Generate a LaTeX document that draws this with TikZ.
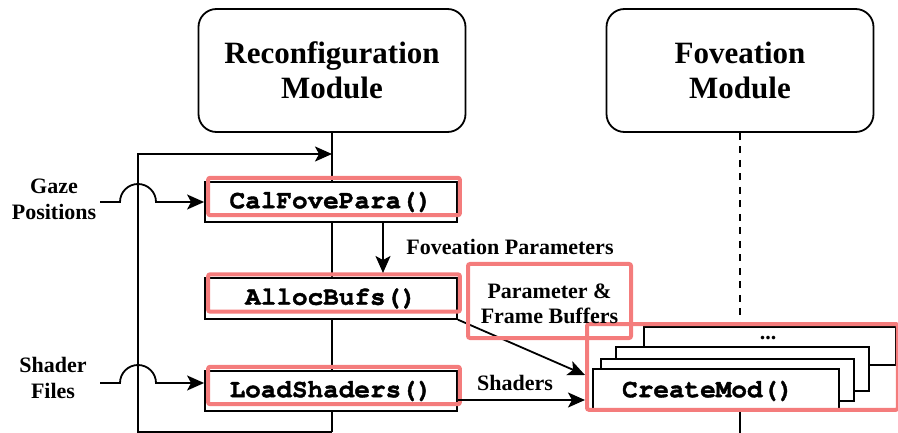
\documentclass[tikz,border=0pt]{standalone}
\usepackage{fontspec}
\setmainfont{Liberation Serif}
\newfontfamily\codefont[BoldFeatures={FakeBold=1.5}]{TeX Gyre Cursor}
\usetikzlibrary{arrows.meta}
\definecolor{hl}{RGB}{244,124,124}
\begin{document}
\begin{tikzpicture}[x=1pt,y=1pt,line width=1.8pt,
  modbox/.style={draw,rounded corners=18pt,minimum width=267pt,minimum height=123pt,align=center,inner sep=0pt,font=\fontsize{31}{35}\selectfont\bfseries},
  funbox/.style={draw,fill=white,minimum width=252pt,minimum height=40.5pt,inner sep=0pt,font=\fontsize{26}{30}\codefont\bfseries},
  hlbox/.style={draw=hl,line width=4pt,rounded corners=2pt},
  lbl/.style={font=\fontsize{22}{26}\selectfont\bfseries,align=center,inner sep=0pt},
  arr/.style={-{Stealth[length=17pt,width=15pt,inset=4pt]}},
  stackbox/.style={draw,fill=white,anchor=north west,inner sep=0pt}
]
\useasboundingbox (0,0) rectangle (898,-433);
% modules
\node[modbox] (recon) at (332,-70.5) {Reconfiguration\\Module};
\node[modbox] (fove) at (740,-70.5) {Foveation\\Module};
% reconfiguration lifeline and loop
\coordinate (rbot) at (332,-432);
\coordinate (lbl) at (138,-432);
\coordinate (ltl) at (138,-154);
\coordinate (ltr) at (332,-154);
\draw (recon.south) -- (rbot);
\draw[arr] (rbot) -- (lbl) -- (ltl) -- (ltr);
% function boxes
\node[funbox] (cal) at (331,-202) {CalFovePara()};
\node[funbox] (alloc) at (331,-298.5) {AllocBufs()};
\node[funbox] (load) at (331,-391) {LoadShaders()};
\foreach \n in {cal,alloc,load}
  \draw[hlbox] ([shift={(4,8)}]\n.south west) rectangle ([shift={(2,3)}]\n.north east);
% inputs
\node[lbl] (gaze) at (54,-199) {Gaze\\Positions};
\node[lbl] (shader) at (53,-378) {Shader\\Files};
\coordinate (g0) at (100,-202);
\coordinate (s0) at (100,-383);
\draw[arr] (g0) -- (120,-202) arc[start angle=180,end angle=0,radius=18] -- (cal.west |- g0);
\draw[arr] (s0) -- (120,-383) arc[start angle=180,end angle=0,radius=18] -- (load.west |- s0);
% cal -> alloc
\coordinate (xa) at (383,-273);
\draw[arr] (cal.south -| xa) -- (xa);
\node[lbl] (fp) at (510,-247) {Foveation Parameters};
% foveation lifeline
\coordinate (fbot) at (740,-433);
% stack
\node[stackbox,minimum width=252pt,minimum height=38pt] (m4) at (643,-326) {};
\draw[dash pattern=on 7pt off 6.5pt] (fove.south) -- (fove.south |- m4.north);
\node[font=\fontsize{22}{26}\selectfont\bfseries,anchor=base] (dots) at (768,-339) {...};
\node[stackbox,minimum width=253pt,minimum height=44pt] (m3) at (615,-346) {};
\node[stackbox,minimum width=253pt,minimum height=42pt] (m2) at (600,-358) {};
\node[stackbox,minimum width=246pt,minimum height=41pt] (m1) at (592,-368) {};
\node[font=\fontsize{26}{30}\codefont\bfseries,inner sep=0pt] (cm) at (708,-391) {CreateMod()};
\draw (m1.south -| fbot) -- (fbot);
\draw[hlbox] ([shift={(-5,1)}]m1.south west) rectangle ([shift={(1,2)}]m4.north east);
% arrows into stack
\coordinate (in1) at (585,-375);
\coordinate (in2) at (585,-400);
\draw[arr] (alloc.south east) -- (in1);
\draw[arr] (load.east |- in2) -- (in2);
\node[lbl] (sh) at (515,-383) {Shaders};
% parameter box
\node[hlbox,minimum width=163pt,minimum height=74pt] (pfb) at (549.5,-301) {};
\node[lbl,yshift=-3pt] (pfbt) at (pfb) {Parameter \&\\[-1pt]Frame Buffers};
\end{tikzpicture}
\end{document}
